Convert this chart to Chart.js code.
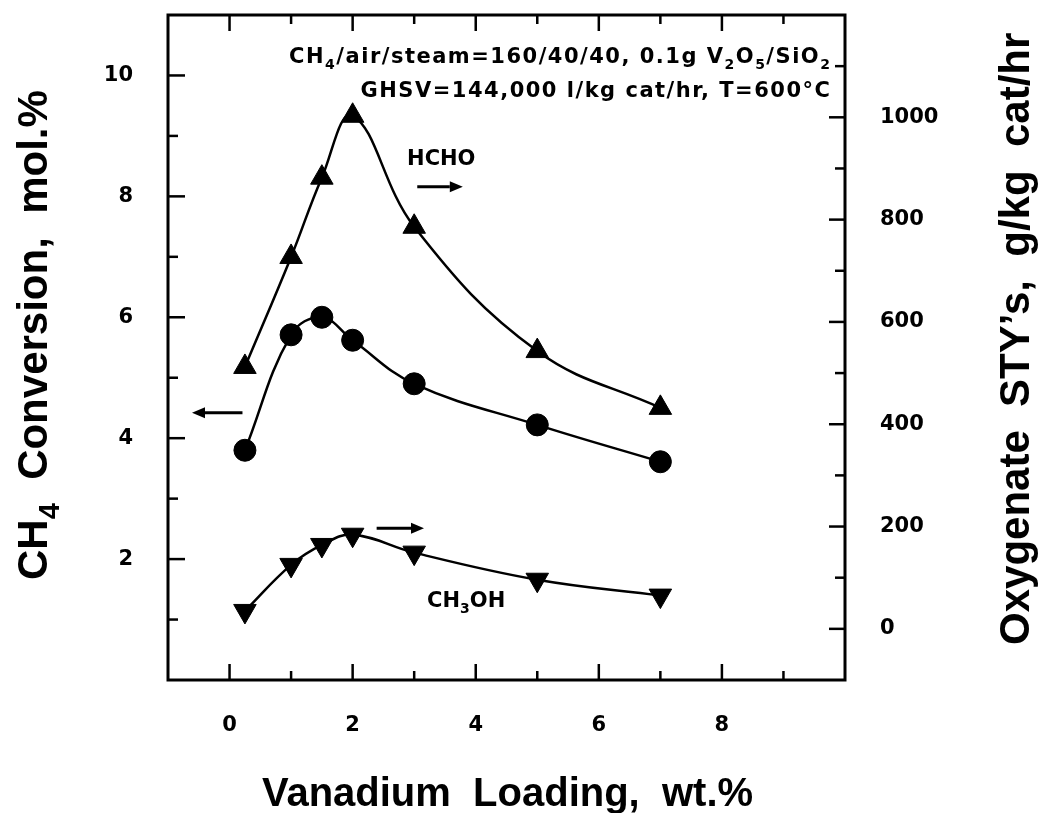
<!DOCTYPE html>
<html>
<head>
<meta charset="utf-8">
<title>Vanadium Loading</title>
<script src="https://cdn.jsdelivr.net/npm/chart.js@4.4.1/dist/chart.umd.min.js"></script>
<style>
    html, body { margin: 0; padding: 0; background: #fff; }
    #wrap { width: 1040px; height: 813px; position: relative; }
</style>
</head>
<body>
<div id="wrap"><canvas id="chart"></canvas></div>
<script>
// values
var loadings = [0.25, 1, 1.5, 2, 3, 5, 7];
var ch4Conversion = [3.80, 5.71, 6.00, 5.62, 4.90, 4.22, 3.61];
var hchoSty = [512, 727, 882, 1003, 786, 543, 432];
var ch3ohSty = [35, 125, 164, 184, 149, 96, 65];

var xTickLabels = [0, 2, 4, 6, 8];
var leftTickLabels = [2, 4, 6, 8, 10];
var rightTickLabels = [0, 200, 400, 600, 800, 1000];

(function (window, document) {
    'use strict';

    var TICK_FONT = '"DejaVu Sans", sans-serif';
    var NOTE_FONT = '"DejaVu Sans", sans-serif';
    var TITLE_FONT = '"Liberation Sans", Arial, sans-serif';

    // annotations, in data units of x / left y axis
    var notes = {
        header: [
            { text: 'CH_4/air/steam=160/40/40, 0.1g V_2O_5/SiO_2', x: 9.78, y: 10.21 },
            { text: 'GHSV=144,000 l/kg cat/hr, T=600°C', x: 9.78, y: 9.64 }
        ],
        labels: [
            { text: 'HCHO', x: 3.44, y: 8.52, align: 'center' },
            { text: 'CH_3OH', x: 3.21, y: 1.21, align: 'left' }
        ],
        arrows: [
            { from: [3.05, 8.16], to: [3.79, 8.16] },
            { from: [0.21, 4.42], to: [-0.61, 4.42] },
            { from: [2.39, 2.51], to: [3.16, 2.51] }
        ]
    };

    function toPoints(xs, ys) {
        return xs.map(function (x, i) { return { x: x, y: ys[i] }; });
    }

    function parseRich(str) {
        var parts = [];
        var buf = '';
        for (var i = 0; i < str.length; i++) {
            if (str[i] === '_' && i + 1 < str.length) {
                if (buf) { parts.push({ t: buf, sub: false }); buf = ''; }
                parts.push({ t: str[i + 1], sub: true });
                i++;
            } else {
                buf += str[i];
            }
        }
        if (buf) parts.push({ t: buf, sub: false });
        return parts;
    }

    function drawRich(ctx, str, x, y, align, size, family, spacing) {
        var parts = parseRich(str);
        var total = 0;
        ctx.letterSpacing = spacing || '0px';
        parts.forEach(function (p) {
            ctx.font = 'bold ' + (p.sub ? Math.round(size * 0.68) : size) + 'px ' + family;
            p.w = ctx.measureText(p.t).width;
            total += p.w;
        });
        var cx = x;
        if (align === 'right') cx = x - total;
        if (align === 'center') cx = x - total / 2;
        ctx.textAlign = 'left';
        ctx.textBaseline = 'alphabetic';
        parts.forEach(function (p) {
            ctx.font = 'bold ' + (p.sub ? Math.round(size * 0.68) : size) + 'px ' + family;
            ctx.fillText(p.t, cx, y + (p.sub ? size * 0.28 : 0));
            cx += p.w;
        });
        ctx.letterSpacing = '0px';
    }

    function line(ctx, x1, y1, x2, y2) {
        ctx.beginPath();
        ctx.moveTo(x1, y1);
        ctx.lineTo(x2, y2);
        ctx.stroke();
    }

    function arrow(ctx, x1, y1, x2, y2) {
        var dir = x2 > x1 ? 1 : -1;
        var head = 13;
        ctx.lineWidth = 3;
        line(ctx, x1, y1, x2 - dir * head, y2);
        ctx.beginPath();
        ctx.moveTo(x2, y2);
        ctx.lineTo(x2 - dir * head, y2 - 5.5);
        ctx.lineTo(x2 - dir * head, y2 + 5.5);
        ctx.closePath();
        ctx.fill();
    }

    var frameTicks = {
        id: 'frameTicks',
        afterDraw: function (chart) {
            var ctx = chart.ctx;
            var a = chart.chartArea;
            var sx = chart.scales.x, sy = chart.scales.y, sr = chart.scales.y2;

            ctx.save();
            ctx.strokeStyle = '#000';
            ctx.lineWidth = 3;
            ctx.strokeRect(a.left, a.top, a.right - a.left, a.bottom - a.top);

            ctx.lineWidth = 2.5;
            sx.ticks.forEach(function (t) {
                if (t.value <= sx.min || t.value >= sx.max) return;
                var len = t.value % 2 === 0 ? 16 : 9;
                var px = sx.getPixelForValue(t.value);
                line(ctx, px, a.bottom, px, a.bottom - len);
                line(ctx, px, a.top, px, a.top + len);
            });
            sy.ticks.forEach(function (t) {
                if (t.value <= sy.min || t.value >= sy.max) return;
                var len = t.value % 2 === 0 ? 17 : 10;
                var py = sy.getPixelForValue(t.value);
                line(ctx, a.left, py, a.left + len, py);
            });
            sr.ticks.forEach(function (t) {
                if (t.value <= sr.min || t.value >= sr.max) return;
                var len = t.value % 200 === 0 ? 16 : 10;
                var py = sr.getPixelForValue(t.value);
                line(ctx, a.right, py, a.right - len, py);
            });
            ctx.restore();
        }
    };

    var annotations = {
        id: 'annotations',
        afterDraw: function (chart) {
            var ctx = chart.ctx;
            var sx = chart.scales.x, sy = chart.scales.y;
            ctx.save();
            ctx.fillStyle = '#000';
            ctx.strokeStyle = '#000';

            notes.header.forEach(function (n) {
                drawRich(ctx, n.text, sx.getPixelForValue(n.x), sy.getPixelForValue(n.y), 'right', 21, NOTE_FONT, '1.5px');
            });
            notes.labels.forEach(function (n) {
                drawRich(ctx, n.text, sx.getPixelForValue(n.x), sy.getPixelForValue(n.y), n.align, 21, NOTE_FONT, '0px');
            });
            notes.arrows.forEach(function (n) {
                arrow(ctx,
                    sx.getPixelForValue(n.from[0]), sy.getPixelForValue(n.from[1]),
                    sx.getPixelForValue(n.to[0]), sy.getPixelForValue(n.to[1]));
            });

            // axis titles
            var a = chart.chartArea;
            drawRich(ctx, 'Vanadium  Loading,  wt.%', (a.left + a.right) / 2 + 1, 806, 'center', 40, TITLE_FONT, '0px');

            ctx.save();
            ctx.translate(47, 580);
            ctx.rotate(-Math.PI / 2);
            drawRich(ctx, 'CH_4  Conversion,  mol.%', 0, 0, 'left', 42, TITLE_FONT, '0px');
            ctx.restore();

            ctx.save();
            ctx.translate(1029, 645);
            ctx.rotate(-Math.PI / 2);
            drawRich(ctx, 'Oxygenate  STY\u2019s,  g/kg  cat/hr', 0, 0, 'left', 42, TITLE_FONT, '0px');
            ctx.restore();

            ctx.restore();
        }
    };

    function tickFont() {
        return { family: TICK_FONT, size: 21, weight: 'bold' };
    }

    function noPadding(scale) {
        scale.paddingTop = 0;
        scale.paddingBottom = 0;
        scale.paddingLeft = 0;
        scale.paddingRight = 0;
    }

    var Figure = function () {
        var _this = this;
        this.chart = null;

        this.datasets = function () {
            var common = {
                showLine: true,
                tension: 0.4,
                borderColor: '#000',
                borderWidth: 2.5,
                pointBackgroundColor: '#000',
                pointBorderColor: '#000',
                pointBorderWidth: 1
            };
            return [
                Object.assign({}, common, {
                    label: 'CH4 conversion',
                    data: toPoints(loadings, ch4Conversion),
                    yAxisID: 'y',
                    pointStyle: 'circle',
                    pointRadius: 11
                }),
                Object.assign({}, common, {
                    label: 'HCHO',
                    data: toPoints(loadings, hchoSty),
                    yAxisID: 'y2',
                    pointStyle: 'triangle',
                    pointRadius: 13
                }),
                Object.assign({}, common, {
                    label: 'CH3OH',
                    data: toPoints(loadings, ch3ohSty),
                    yAxisID: 'y2',
                    pointStyle: 'triangle',
                    pointRotation: 180,
                    pointRadius: 13
                })
            ];
        };

        this.run = function () {
            var ctx = document.getElementById('chart').getContext('2d');

            _this.chart = new Chart(ctx, {
                type: 'scatter',
                data: { datasets: _this.datasets() },
                plugins: [frameTicks, annotations],
                options: {
                    responsive: true,
                    maintainAspectRatio: false,
                    devicePixelRatio: 1,
                    animation: false,
                    layout: { padding: { top: 15, left: 0, right: 0, bottom: 0 } },
                    plugins: {
                        legend: { display: false },
                        tooltip: { enabled: false }
                    },
                    scales: {
                        x: {
                            type: 'linear',
                            position: 'bottom',
                            min: -1,
                            max: 10,
                            grid: { display: false, drawTicks: false },
                            border: { display: false },
                            ticks: {
                                stepSize: 1,
                                autoSkip: false,
                                maxRotation: 0,
                                padding: 33,
                                color: '#000',
                                font: tickFont(),
                                callback: function (v) {
                                    return xTickLabels.indexOf(v) >= 0 ? String(v) : '';
                                }
                            },
                            afterFit: function (scale) { scale.height = 133; noPadding(scale); }
                        },
                        y: {
                            type: 'linear',
                            position: 'left',
                            min: 0,
                            max: 11,
                            grid: { display: false, drawTicks: false },
                            border: { display: false },
                            ticks: {
                                stepSize: 1,
                                autoSkip: false,
                                padding: 35,
                                color: '#000',
                                font: tickFont(),
                                callback: function (v) {
                                    return leftTickLabels.indexOf(v) >= 0 ? String(v) : '';
                                }
                            },
                            afterFit: function (scale) { scale.width = 168; noPadding(scale); }
                        },
                        y2: {
                            type: 'linear',
                            position: 'right',
                            min: -100,
                            max: 1200,
                            grid: { display: false, drawTicks: false },
                            border: { display: false },
                            ticks: {
                                stepSize: 100,
                                autoSkip: false,
                                padding: 35,
                                color: '#000',
                                font: tickFont(),
                                callback: function (v) {
                                    return rightTickLabels.indexOf(v) >= 0 ? String(v) : '';
                                }
                            },
                            afterFit: function (scale) { scale.width = 195; noPadding(scale); }
                        }
                    }
                }
            });
        };
    };

    window.addEventListener('load', function () {
        new Figure().run();
    });

})(window, document);
</script>
</body>
</html>
